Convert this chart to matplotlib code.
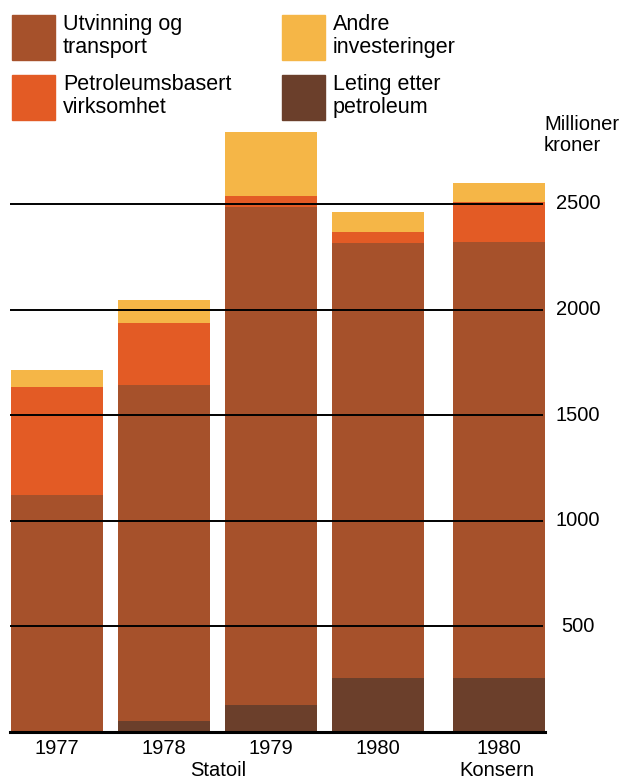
"""Statoil investeringer 1977-1980, stablede søyler."""

import matplotlib
matplotlib.use("Agg")
import matplotlib.pyplot as plt
from matplotlib.patches import Rectangle

plt.rcParams['font.family'] = ['Liberation Sans', 'DejaVu Sans']

# Data (millioner kroner), lest av figuren
years = ["1977", "1978", "1979", "1980", "1980"]
leting = [0, 52, 128, 256, 256]
utvinning = [1122, 1591, 2358, 2059, 2065]
petroleum = [511, 294, 52, 54, 188]
andre = [81, 108, 303, 95, 92]
yticks = [500, 1000, 1500, 2000, 2500]

positions = [0, 1, 2, 3, 4.13]
c_utv = "#A6512B"
c_pet = "#E35B25"
c_and = "#F5B647"
c_let = "#6B3F2B"

fig = plt.figure(figsize=(6.33, 7.82), dpi=100)
W, H = 633, 782
ax = fig.add_axes([10 / W, (H - 732) / H, 535 / W, 612.5 / H])
x0, x1 = -0.44, 4.56


def px2x(px):
    return x0 + (px - 10) / 535 * (x1 - x0)


bottom = [0] * len(years)
for vals, col in [(leting, c_let), (utvinning, c_utv), (petroleum, c_pet), (andre, c_and)]:
    ax.bar(positions, vals, width=0.86, bottom=bottom, color=col, zorder=2)
    bottom = [b + v for b, v in zip(bottom, vals)]

ax.set_xlim(x0, x1)
ax.set_ylim(0, 2900)
ax.hlines(yticks, x0, px2x(543), color="black", lw=1.4, zorder=3)
ax.axhline(0, color="black", lw=2.2, zorder=3, clip_on=False)
for s in ax.spines.values():
    s.set_visible(False)
ax.set_xticks([])
ax.set_yticks([])

# y-akse etiketter til høyre
for t in yticks:
    ax.text(px2x(578), t, str(t), ha="center", va="center",
            fontsize=14.5, clip_on=False)
fig.text(544 / W, 1 - 135 / H, "Millioner\nkroner", ha="left", va="center",
         fontsize=14.5, linespacing=1.1)

# x-etiketter
for p, y in zip(positions, years):
    ax.text(p, -35, y, ha="center", va="top", fontsize=14.5)
fig.text(218 / W, 1 - 771 / H, "Statoil", ha="center", va="center", fontsize=14.5)
fig.text(497 / W, 1 - 771 / H, "Konsern", ha="center", va="center", fontsize=14.5)

# legend
legend_items = [
    (12, 15, c_utv, "Utvinning og\ntransport"),
    (282, 15, c_and, "Andre\ninvesteringer"),
    (12, 75, c_pet, "Petroleumsbasert\nvirksomhet"),
    (282, 75, c_let, "Leting etter\npetroleum"),
]
for x, y, col, label in legend_items:
    fig.patches.append(Rectangle((x / W, 1 - (y + 45) / H), 43 / W, 45 / H,
                                 transform=fig.transFigure, color=col))
    fig.text((x + 51) / W, 1 - (y + 21) / H, label, ha="left", va="center",
             fontsize=15.5, linespacing=1.08)

fig.savefig("out.png", dpi=100)
